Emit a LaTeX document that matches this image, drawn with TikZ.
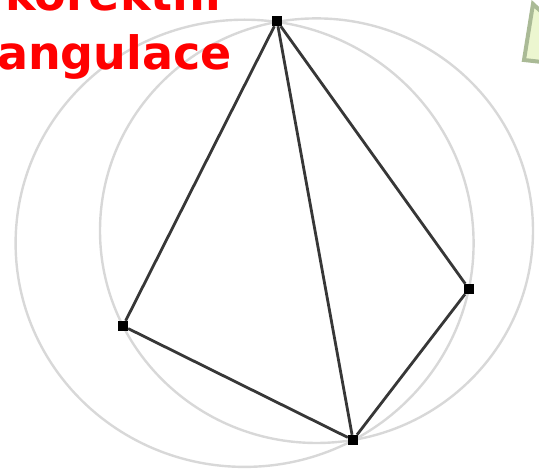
\documentclass[tikz,border=0pt]{standalone}
\usepackage{fontspec}
\newfontfamily\labelfont{DejaVu Sans}

\definecolor{circlegray}{RGB}{216,216,216}
\definecolor{edgegray}{RGB}{55,55,55}
\definecolor{notefill}{RGB}{236,246,208}
\definecolor{notedraw}{RGB}{170,186,150}

\newcommand*{\picwd}{539}
\newcommand*{\picht}{470}

\begin{document}
\begin{tikzpicture}
[
	x=1pt, y=-1pt,
	vertex/.style={rectangle,fill=black,inner sep=0pt,minimum size=10pt},
	edge/.style={edgegray,line width=2.8pt},
	circum/.style={circlegray,line width=2.4pt},
	title/.style={text=red,inner sep=0pt,font=\labelfont\bfseries\fontsize{46}{55}\selectfont}
]

	\useasboundingbox (0,0) rectangle (\picwd,\picht);
	\clip (0,0) rectangle (\picwd,\picht);

	% note box corner
	\filldraw[fill=notefill,draw=notedraw,line width=4pt] (524,60) -- (533,4) -- (548,18) -- (560,64) -- cycle;

	% circumcircles
	\draw[circum] (316.5,230.7) ellipse [x radius=216.5, y radius=212.3];
	\draw[circum] (244.6,243.3) ellipse [x radius=229, y radius=223.6];

	% points
	\node[vertex] (top) at (277,21) {};
	\node[vertex] (left) at (123,326) {};
	\node[vertex] (bottom) at (353,440) {};
	\node[vertex] (right) at (469,289) {};

	% triangulation
	\draw[edge] (top) -- (left);
	\draw[edge] (left) -- (bottom);
	\draw[edge] (top) -- (bottom);
	\draw[edge] (top) -- (right);
	\draw[edge] (right) -- (bottom);

	% title
	\node[title,anchor=base west] (line1) at (5,11) {korektní};
	\node[title,anchor=base east] (line2) at (232,70) {triangulace};

\end{tikzpicture}
\end{document}
